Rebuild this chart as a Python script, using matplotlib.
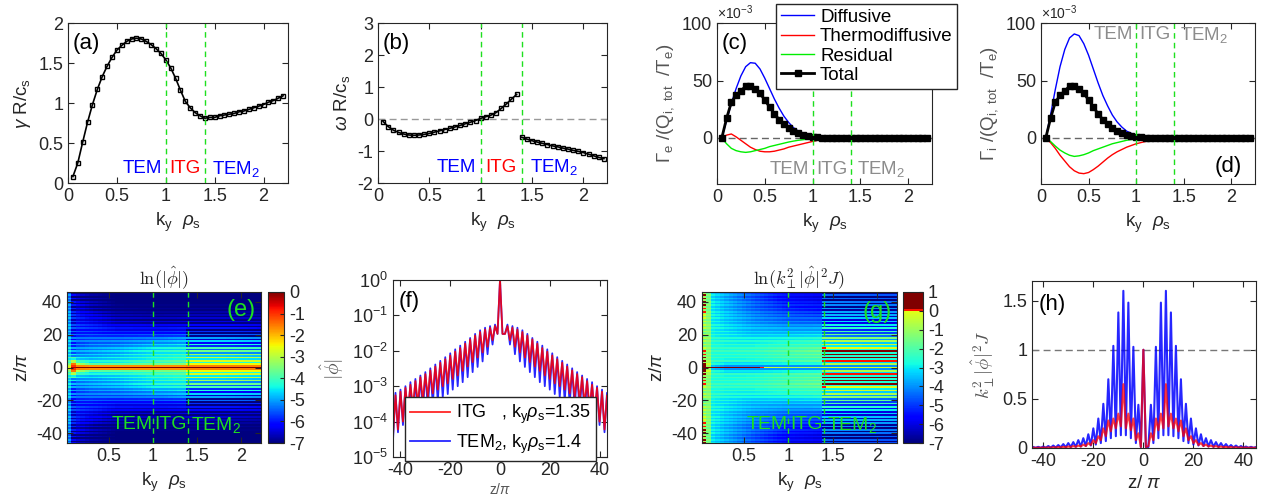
import numpy as np
import matplotlib
matplotlib.use('Agg')
import matplotlib.pyplot as plt
from matplotlib.colors import ListedColormap
from matplotlib.ticker import FuncFormatter, NullLocator

plt.rcParams['font.family'] = ['Liberation Sans', 'DejaVu Sans']
plt.rcParams['mathtext.fontset'] = 'custom'
plt.rcParams['mathtext.rm'] = 'Liberation Sans'
plt.rcParams['mathtext.it'] = 'Liberation Sans:italic'
plt.rcParams['mathtext.bf'] = 'Liberation Sans:bold'
plt.rcParams['axes.unicode_minus'] = False

# ---------------- data ----------------
ky = np.round(np.arange(1, 45) * 0.05, 2)

gamma = [0.08, 0.25, 0.51, 0.76, 0.98, 1.17, 1.33, 1.46, 1.57, 1.66, 1.72, 1.77, 1.80, 1.81, 1.80,
         1.77, 1.73, 1.68, 1.62, 1.54, 1.44, 1.31, 1.16, 1.02, 0.94, 0.88, 0.84, 0.81, 0.82, 0.82,
         0.84, 0.85, 0.86, 0.87, 0.89, 0.90, 0.92, 0.94, 0.96, 0.98, 1.01, 1.03, 1.06, 1.09]

omega = [-0.08, -0.24, -0.35, -0.42, -0.47, -0.50, -0.51, -0.50, -0.48, -0.45, -0.41, -0.37,
         -0.33, -0.29, -0.25, -0.20, -0.15, -0.10, -0.05, 0.02, 0.07, 0.12, 0.20, 0.33, 0.47,
         0.62, 0.77, -0.57, -0.63, -0.68, -0.72, -0.76, -0.80, -0.84, -0.87, -0.91, -0.94,
         -0.98, -1.01, -1.05, -1.10, -1.15, -1.20, -1.24]

# particle fluxes, units of 1e-3
ge_diff = [0, 15, 30, 43, 54, 62, 65.5, 65, 60, 52, 43, 34, 26, 19, 13.5, 9, 6, 4, 2.5, 1.5,
           0.8, 0.4, 0.2, 0.1, 0, 0, 0, 0, 0, 0, 0, 0, 0, 0, 0, 0, 0, 0, 0, 0, 0, 0, 0, 0]
ge_thermo = [0, 2.5, 3.5, 1, -2, -5, -8, -10, -11.5, -12, -12, -11.5, -10.5, -9.5, -8, -7, -6,
             -5, -4, -3, -2, -1.2, -0.6, -0.3, -0.1, 0, 0, 0, 0, 0, 0, 0, 0, 0, 0, 0, 0, 0, 0,
             0, 0, 0, 0, 0]
ge_resid = [0, -5, -9, -11, -12, -12.5, -12, -11, -10, -9, -7.5, -6.5, -5.5, -4.5, -3.5, -2.7,
            -2, -1.5, -1, -0.6, -0.3, -0.1, 0, 0, 0, 0, 0, 0, 0, 0, 0, 0, 0, 0, 0, 0, 0, 0, 0,
            0, 0, 0, 0, 0]
g_total = [0, 17, 31, 37, 41, 45, 45, 43, 39, 33, 27, 21, 16, 12, 8.5, 6, 4, 2.5, 1.5, 1, 0.5,
           0.2, 0.1, 0, 0, 0, 0, 0, 0, 0, 0, 0, 0, 0, 0, 0, 0, 0, 0, 0, 0, 0, 0, 0]
gi_diff = [0, 20, 42, 62, 77, 87, 90.5, 89, 82, 72, 60, 48, 37, 28, 20, 14, 9.5, 6, 4, 2.5, 1.5,
           0.8, 0.4, 0.2, 0.1, 0, 0, 0, 0, 0, 0, 0, 0, 0, 0, 0, 0, 0, 0, 0, 0, 0, 0, 0]
gi_thermo = [0, -4, -9, -15, -20, -25, -28.5, -30.5, -31, -30, -27.5, -24.5, -21, -17.5, -14.5,
             -12, -10, -8, -6.5, -5, -4, -3, -2, -1.3, -0.8, -0.4, -0.2, 0, 0, 0, 0, 0, 0, 0,
             0, 0, 0, 0, 0, 0, 0, 0, 0, 0]
gi_resid = [0, -3, -7, -10.5, -13, -15, -16, -15.5, -14.5, -13, -11, -9.5, -8, -6.5, -5, -4, -3,
            -2, -1.3, -0.8, -0.4, -0.2, 0, 0, 0, 0, 0, 0, 0, 0, 0, 0, 0, 0, 0, 0, 0, 0, 0, 0,
            0, 0, 0, 0]

# heat maps: values at |z/pi| knots (rows) and ky knots (columns), plus stripe contrast
zk = [0, 1, 2, 4, 7, 10, 14, 18, 22, 27, 33, 40, 46]
kyk = [0.05, 0.1, 0.15, 0.3, 0.6, 1.0, 1.35, 1.4, 1.8, 2.2]
lnphi = [[-2.5, -0.3, 0.0, 0.0, 0.0, 0.0, 0.0, 0.0, 0.0, 0.0],
         [-2.8, -1.0, -1.6, -1.7, -1.7, -1.7, -1.7, -1.6, -1.6, -1.6],
         [-3.5, -1.5, -3.0, -3.8, -3.8, -3.6, -3.4, -2.5, -2.5, -2.5],
         [-3.8, -3.0, -4.0, -4.3, -4.2, -3.9, -3.7, -2.7, -2.7, -2.8],
         [-4.2, -4.3, -4.6, -4.6, -4.4, -4.0, -3.8, -3.0, -3.0, -3.1],
         [-4.4, -4.8, -4.9, -4.8, -4.6, -4.2, -4.0, -3.6, -3.6, -3.7],
         [-4.5, -5.0, -5.1, -5.0, -4.9, -4.6, -4.4, -4.3, -4.3, -4.4],
         [-4.6, -5.2, -5.3, -5.3, -5.3, -5.2, -5.0, -5.0, -5.0, -5.1],
         [-4.7, -5.4, -5.5, -5.6, -5.8, -5.8, -5.7, -5.8, -5.8, -5.9],
         [-4.7, -5.6, -5.7, -5.9, -6.3, -6.4, -6.3, -6.3, -6.3, -6.4],
         [-4.8, -5.8, -6.0, -6.3, -6.7, -6.8, -6.8, -6.7, -6.7, -6.8],
         [-4.9, -6.0, -6.3, -6.6, -7.0, -7.0, -7.0, -7.0, -7.0, -7.0],
         [-5.0, -6.2, -6.5, -6.8, -7.0, -7.0, -7.0, -7.0, -7.0, -7.0]]
lnphi_ctr = [0.6, 1.0, 0.6, 0.5, 0.5, 0.5, 0.6, 1.7, 1.7, 1.7]
lnk2 = [[0.5, 0.5, 0.8, 0.8, 0.3, -0.8, -0.8, -0.4, -0.4, -0.4],
        [0.5, -1.0, -3.5, -4.0, -4.0, -4.0, -4.0, -4.0, -4.0, -4.0],
        [0.3, -0.3, -2.5, -3.0, -3.0, -2.8, -2.6, -0.8, -0.8, -0.8],
        [0.2, -0.8, -2.2, -2.4, -2.4, -2.0, -1.8, 0.0, 0.0, 0.0],
        [0.1, -1.0, -2.2, -2.3, -2.2, -1.8, -1.5, 0.25, 0.25, 0.2],
        [0.0, -1.0, -2.2, -2.3, -2.2, -1.8, -1.5, 0.2, 0.2, 0.15],
        [-0.5, -1.0, -2.3, -2.4, -2.4, -2.1, -1.9, -0.2, -0.25, -0.3],
        [-0.6, -1.0, -2.4, -2.6, -2.8, -2.7, -2.5, -1.2, -1.3, -1.4],
        [-0.6, -1.0, -2.5, -2.8, -3.2, -3.3, -3.2, -2.1, -2.2, -2.3],
        [-0.3, -1.0, -2.6, -3.0, -3.6, -4.0, -4.0, -3.0, -3.1, -3.2],
        [0.0, -1.1, -2.7, -3.2, -4.0, -4.6, -4.8, -3.6, -3.7, -3.8],
        [0.2, -1.2, -2.8, -3.4, -4.3, -5.2, -5.4, -4.2, -4.3, -4.4],
        [0.3, -1.3, -2.9, -3.5, -4.5, -5.5, -5.6, -4.6, -4.7, -4.8]]
lnk2_ctr = [1.2, 0.5, 0.5, 0.5, 0.5, 0.5, 0.6, 2.8, 2.8, 2.8]

# mode profiles along z/pi (right half; peaks at z=3,5,..45, troughs at z=2,4,..44)
phi_itg_pk = [0.05, 0.045, 0.04, 0.034, 0.027, 0.021, 0.016, 0.012, 0.0095, 0.0074, 0.0058,
              0.0046, 0.0036, 0.0028, 0.0022, 0.0018, 0.0014, 0.0011, 0.0009, 0.0007, 0.00055,
              0.00045]
phi_itg_tr = [0.03, 0.02, 0.013, 0.009, 0.0065, 0.0048, 0.0036, 0.0027, 0.002, 0.0016, 0.0012,
              0.001, 0.0008, 0.00063, 0.0005, 0.0004, 0.00032, 0.00026, 0.0002, 0.0001,
              0.00006, 0.00004]
phi_tem_pk = [0.055, 0.05, 0.045, 0.038, 0.03, 0.023, 0.018, 0.014, 0.011, 0.0085, 0.0066,
              0.0052, 0.0041, 0.0032, 0.0025, 0.002, 0.0016, 0.0013, 0.001, 0.0008, 0.00065,
              0.0005]
phi_tem_tr = [0.03, 0.015, 0.008, 0.005, 0.0035, 0.0025, 0.0018, 0.0013, 0.001, 0.0008, 0.0006,
              0.00048, 0.00038, 0.0003, 0.00024, 0.00019, 0.00015, 0.00012, 0.0001, 0.00008,
              0.00005, 0.00003]
k2_itg_pk = [0.15, 0.30, 0.35, 0.65, 0.35, 0.30, 0.28, 0.20, 0.12, 0.08, 0.05, 0.035, 0.025,
             0.02, 0.015, 0.012, 0.01, 0.008, 0.006, 0.005, 0.004, 0.003]
k2_itg_tr = [0.02, 0.08, 0.18, 0.2, 0.22, 0.2, 0.17, 0.12, 0.08, 0.05, 0.03, 0.02, 0.015,
             0.012, 0.01, 0.008, 0.006, 0.005, 0.004, 0.003, 0.002, 0.002]
k2_tem_pk = [0.44, 1.03, 1.48, 1.60, 1.38, 1.04, 0.70, 0.45, 0.30, 0.20, 0.14, 0.10, 0.08,
             0.06, 0.05, 0.04, 0.03, 0.025, 0.02, 0.015, 0.012, 0.01]
k2_tem_tr = [0.01, 0.05, 0.10, 0.13, 0.13, 0.12, 0.10, 0.07, 0.05, 0.035, 0.025, 0.02, 0.015,
             0.012, 0.01, 0.008, 0.006, 0.005, 0.004, 0.003, 0.002, 0.002]
center_val = 1.0
phi_dip = 0.03
k2_dip = 0.01

# ---------------- helpers ----------------
W, H = 1269, 504
TXT = '#262626'
GREEN = '#1ee01e'


def rect(l, r, t, b):
    return [l / W, 1 - b / H, (r - l) / W, (b - t) / H]


def style(ax):
    ax.tick_params(direction='in', top=True, right=True, labelsize=13, colors=TXT,
                   length=4, width=0.8)
    for s in ax.spines.values():
        s.set_color(TXT)
        s.set_linewidth(0.8)


fmt = FuncFormatter(lambda v, p: '%g' % v)


def profile(pk, tr, dip):
    zp = np.arange(3, 46, 2)
    zt = np.arange(2, 45, 2)
    z = np.concatenate([[0, 1], zt, zp])
    v = np.concatenate([[center_val, dip], tr, pk])
    o = np.argsort(z)
    z, v = z[o], v[o]
    # left half mirrored with a one-step shift
    zl = -(z[1:] - 1)
    zl[0] = -1
    vl = v[1:]
    zz = np.concatenate([zl[::-1], z])
    vv = np.concatenate([vl[::-1], v])
    return zz, vv


def heat(table, ctr):
    table = np.array(table)
    zrow = np.arange(-46, 47)
    cols = np.array([np.interp(ky, kyk, row) for row in table])
    c = np.interp(ky, kyk, ctr)
    img = np.array([[np.interp(abs(z), zk, cols[:, j]) for j in range(len(ky))] for z in zrow])
    img[(zrow % 2 == 1) & (np.abs(zrow) > 1)] -= c
    return img


def regions(ax, y, colors, size=13.5):
    for x, s, c in zip((0.76, 1.2, 1.72), ('TEM', 'ITG', 'TEM$_2$'), colors):
        ax.text(x, y, s, color=c, ha='center', va='center', fontsize=size)


def vlines(ax):
    for x in (1.0, 1.4):
        ax.axvline(x, color=GREEN, lw=1, dashes=(4, 3))


fig = plt.figure(figsize=(W / 100, H / 100), dpi=100)
kylab = r'k$_\mathrm{y}$  $\rho_\mathrm{s}$'
BRB = ['blue', 'red', 'blue']

# (a)
ax = fig.add_axes(rect(68, 288, 23, 183))
ax.plot(ky, gamma, '-s', color='k', ms=3.3, mfc='none', mew=1, lw=1.2)
vlines(ax)
ax.set_xlim(0, 2.25)
ax.set_ylim(0, 2)
ax.set_yticks([0, 0.5, 1, 1.5, 2])
ax.set_xticks([0, 0.5, 1, 1.5, 2])
regions(ax, 0.18, BRB)
ax.text(0.19, 1.74, '(a)', fontsize=16, ha='center', va='center', color='k')
ax.set_xlabel(kylab, fontsize=13.5, color=TXT)
ax.set_ylabel(r'$\gamma$ R/c$_\mathrm{s}$', fontsize=13.5, color=TXT)
style(ax)
ax.xaxis.set_major_formatter(fmt)
ax.yaxis.set_major_formatter(fmt)

# (b)
ax = fig.add_axes(rect(378, 607, 23, 183))
om = np.array(omega)
br = ky <= 1.35
ax.axhline(0, color='#999999', lw=1, dashes=(5, 3))
ax.plot(ky[br], om[br], '-s', color='k', ms=3.3, mfc='none', mew=1, lw=1.2)
ax.plot(ky[~br], om[~br], '-s', color='k', ms=3.3, mfc='none', mew=1, lw=1.2)
vlines(ax)
ax.set_xlim(0, 2.23)
ax.set_ylim(-2, 3)
ax.set_yticks([-2, -1, 0, 1, 2, 3])
ax.set_xticks([0, 0.5, 1, 1.5, 2])
regions(ax, -1.5, BRB)
ax.text(0.18, 2.37, '(b)', fontsize=16, ha='center', va='center', color='k')
ax.set_xlabel(kylab, fontsize=13.5, color=TXT)
ax.set_ylabel(r'$\omega$ R/c$_\mathrm{s}$', fontsize=13.5, color=TXT)
style(ax)
ax.xaxis.set_major_formatter(fmt)
ax.yaxis.set_major_formatter(fmt)


def flux(ax, d, t, r, tot):
    ax.axhline(0, color='#666666', lw=1, dashes=(5, 3))
    l1, = ax.plot(ky, d, color='#0000ff', lw=1)
    l2, = ax.plot(ky, t, color='#ff0000', lw=1)
    l3, = ax.plot(ky, r, color='#00ee00', lw=1)
    l4, = ax.plot(ky, tot, '-s', color='k', ms=4, lw=2)
    vlines(ax)
    ax.set_xlim(0, 2.25)
    ax.set_ylim(-40, 100)
    ax.set_yticks([0, 50, 100])
    ax.set_xticks([0, 0.5, 1, 1.5, 2])
    ax.text(0, 1.005, r'$\times$10$^{-3}$', transform=ax.transAxes, fontsize=10,
            color=TXT, ha='left', va='bottom')
    ax.set_xlabel(kylab, fontsize=13.5, color=TXT)
    style(ax)
    ax.xaxis.set_major_formatter(fmt)
    return [l1, l2, l3, l4]


GREY3 = ['#8c8c8c'] * 3

# (c)
ax = fig.add_axes(rect(717, 932, 23, 184))
hs = flux(ax, ge_diff, ge_thermo, ge_resid, g_total)
regions(ax, -27, GREY3)
ax.text(0.19, 82, '(c)', fontsize=16, ha='center', va='center', color='k')
ax.set_ylabel(r'$\Gamma_\mathrm{e}$ /(Q$_\mathrm{i,\ tot}$  /T$_\mathrm{e}$)', fontsize=13.5,
              color='#555555')
ax.legend(hs, ['Diffusive', 'Thermodiffusive', 'Residual', 'Total'], loc='upper left',
          bbox_to_anchor=(776 / W, 1 - 4 / H), bbox_transform=fig.transFigure,
          fancybox=False, edgecolor=TXT, framealpha=1, fontsize=13.5, handlelength=1.8,
          handletextpad=0.3, borderpad=0.25, labelspacing=0.12, borderaxespad=0)

# (d)
ax = fig.add_axes(rect(1041, 1255, 23, 184))
flux(ax, gi_diff, gi_thermo, gi_resid, g_total)
regions(ax, 90, GREY3)
ax.text(1.97, -25, '(d)', fontsize=16, ha='center', va='center', color='k')
ax.set_ylabel(r'$\Gamma_\mathrm{i}$ /(Q$_\mathrm{i,\ tot}$  /T$_\mathrm{e}$)', fontsize=13.5,
              color='#555555')

# (e)
jet = plt.get_cmap('jet')
GR3 = [GREEN] * 3
ax = fig.add_axes(rect(67, 261, 292, 443))
im = ax.imshow(heat(lnphi, lnphi_ctr), extent=[0.025, 2.225, -46.5, 46.5], origin='lower',
               aspect='auto', cmap=jet, vmin=-7, vmax=0, interpolation='nearest')
vlines(ax)
ax.set_ylim(-46, 46)
ax.set_xticks([0.5, 1, 1.5, 2])
ax.set_yticks([-40, -20, 0, 20, 40])
regions(ax, -35, GR3, 14)
ax.text(2.0, 35, '(e)', fontsize=17, color=GREEN, ha='center', va='center')
ax.set_title(r'$\ln(|\hat{\phi}|)$', fontsize=13, color=TXT, math_fontfamily='cm', pad=6)
ax.set_xlabel(kylab, fontsize=13.5, color=TXT)
ax.set_ylabel(r'z/$\pi$', fontsize=13.5, color=TXT)
style(ax)
ax.xaxis.set_major_formatter(fmt)
cax = fig.add_axes(rect(268, 284, 292, 443))
cb = fig.colorbar(im, cax=cax, ticks=range(-7, 1))
cax.tick_params(direction='in', labelsize=13, colors=TXT, length=3, width=0.8)
cb.outline.set_edgecolor(TXT)
cb.outline.set_linewidth(0.8)

# (f)
ax = fig.add_axes(rect(393, 607, 280, 457))
zi, vi = profile(phi_itg_pk, phi_itg_tr, phi_dip)
zt_, vt = profile(phi_tem_pk, phi_tem_tr, phi_dip)
lt, = ax.plot(zt_, vt, color='#0000ff', lw=1.3, alpha=0.85)
li, = ax.plot(zi, vi, color='#ff0000', lw=1.3, alpha=0.85)
ax.set_yscale('log')
ax.set_ylim(1e-5, 1)
ax.set_xlim(-43, 43)
ax.set_yticks([1e-5, 1e-4, 1e-3, 1e-2, 1e-1, 1])
ax.yaxis.set_minor_locator(NullLocator())
ax.set_xticks([-40, -20, 0, 20, 40])
ax.text(-36.5, 10 ** -0.62, '(f)', fontsize=16, ha='center', va='center', color='k')
ax.set_xlabel(r'z/$\pi$', fontsize=10, color='#555555', labelpad=2)
ax.set_ylabel(r'$|\hat{\phi}|$', fontsize=14, color='#555555', math_fontfamily='cm')
style(ax)
ax.legend([li, lt], [r'ITG   , k$_\mathrm{y}\rho_\mathrm{s}$=1.35',
                     r'TEM$_2$, k$_\mathrm{y}\rho_\mathrm{s}$=1.4'],
          loc='lower left', bbox_to_anchor=(405 / W, 1 - 461 / H),
          bbox_transform=fig.transFigure, fancybox=False, edgecolor=TXT, framealpha=1,
          fontsize=13, handlelength=2.2, handletextpad=0.3, borderpad=0.3,
          labelspacing=0.35, borderaxespad=0)

# (g)
cols = np.vstack([jet(np.linspace(0, 0.625, 224)), jet(np.full(3, 0.89)),
                  jet(np.full(29, 1.0))])
cmap_g = ListedColormap(cols)
ax = fig.add_axes(rect(702, 897, 292, 443))
im = ax.imshow(heat(lnk2, lnk2_ctr), extent=[0.025, 2.225, -46.5, 46.5], origin='lower',
               aspect='auto', cmap=cmap_g, vmin=-7, vmax=1, interpolation='nearest')
vlines(ax)
ax.set_ylim(-46, 46)
ax.set_xticks([0.5, 1, 1.5, 2])
ax.set_yticks([-40, -20, 0, 20, 40])
regions(ax, -35, GR3, 14)
ax.text(2.0, 34, '(g)', fontsize=17, color=GREEN, ha='center', va='center')
ax.set_title(r'$\ln(k_\perp^2|\hat{\phi}|^2J)$', fontsize=13, color=TXT,
             math_fontfamily='cm', pad=6)
ax.set_xlabel(kylab, fontsize=13.5, color=TXT)
ax.set_ylabel(r'z/$\pi$', fontsize=13.5, color=TXT)
style(ax)
ax.xaxis.set_major_formatter(fmt)
cax = fig.add_axes(rect(903, 923, 292, 443))
cb = fig.colorbar(im, cax=cax, ticks=range(-7, 2))
cax.tick_params(direction='in', labelsize=13, colors=TXT, length=3, width=0.8)
cb.outline.set_edgecolor(TXT)
cb.outline.set_linewidth(0.8)

# (h)
ax = fig.add_axes(rect(1032, 1256, 281, 448))
zi, vi = profile(k2_itg_pk, k2_itg_tr, k2_dip)
zt_, vt = profile(k2_tem_pk, k2_tem_tr, k2_dip)
ax.axhline(1, color='#777777', lw=1, dashes=(5, 3))
ax.plot(zt_, vt, color='#0000ff', lw=1.5, alpha=0.85)
ax.plot(zi, vi, color='#ff0000', lw=1.5, alpha=0.75)
ax.set_xlim(-44.5, 45)
ax.set_ylim(0, 1.7)
ax.set_yticks([0, 0.5, 1, 1.5])
ax.set_xticks([-40, -20, 0, 20, 40])
ax.text(-36.4, 1.46, '(h)', fontsize=16, ha='center', va='center', color='k')
ax.set_xlabel(r'z/ $\pi$', fontsize=13.5, color=TXT)
ax.set_ylabel(r'$k_\perp^2|\hat{\phi}|^2J$', fontsize=13.5, color='#555555',
              math_fontfamily='cm')
style(ax)
ax.yaxis.set_major_formatter(fmt)

fig.savefig('out.png', dpi=100)
